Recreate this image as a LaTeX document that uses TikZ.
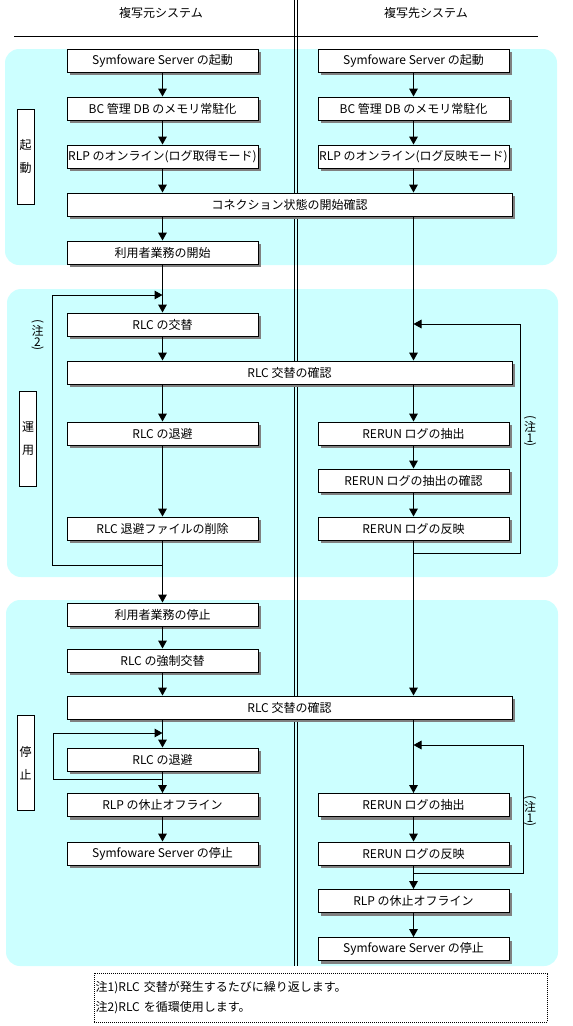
\documentclass[tikz,border=0pt]{standalone}
\usepackage{fontspec}
\usepackage{graphicx}
\setmainfont{Noto Sans CJK JP}
\usetikzlibrary{arrows.meta, shadows}
\definecolor{phasecyan}{RGB}{204, 255, 255}
\definecolor{shadowgray}{RGB}{128, 128, 128}
\newcommand\vparen[1]{\rotatebox{-90}{#1}}

\begin{document}
\begin{tikzpicture}[
  x=0.75pt, y=-0.75pt, line width=0.75pt, font=\fontsize{9}{11}\selectfont,
  box/.style={draw, fill=white, minimum width=143.25pt, minimum height=17.25pt, inner sep=0pt,
              drop shadow={shadow xshift=2.6pt, shadow yshift=-2.6pt, fill=shadowgray, opacity=1}},
  widebox/.style={box, minimum width=333.75pt},
  phase/.style={draw, fill=white, minimum width=12.75pt, minimum height=71.25pt, inner sep=0pt,
                align=center, font=\fontsize{9}{17.25}\selectfont},
  remark/.style={inner sep=0pt, align=center, font=\fontsize{9}{0}\selectfont},
  panel/.style={fill=phasecyan, rounded corners=10.5pt},
  arr/.style={-{Triangle[length=6pt, width=6.5pt]}},
]
\useasboundingbox (0,0) rectangle (573,1026);

% background panels
\fill[panel] (5,49) rectangle (557,265);
\fill[panel] (7,289) rectangle (558,577);
\fill[panel] (6,600) rectangle (558,966);

% headings and system separator
\node (srchead) at (161,13) {複写元システム};
\node (dsthead) at (426,13) {複写先システム};
\draw (14,36) -- (538,36);
\draw (294,0) -- (294,966) (297,0) -- (297,966);

% phase labels
\node[phase] (phstart) at (25.5,156.5) {起\\動};
\node[phase] (phrun) at (28,439) {運\\用};
\node[phase] (phstop) at (25.5,763) {停\\止};

% startup
\node[box] (l1) at (162.5,60.5) {Symfoware Server の起動};
\node[box] (l2) at (162.5,108.5) {BC 管理 DB のメモリ常駐化};
\node[box] (l3) at (162.5,156.5) {RLP のオンライン(ログ取得モード)};
\node[box] (r1) at (413.5,60.5) {Symfoware Server の起動};
\node[box] (r2) at (413.5,108.5) {BC 管理 DB のメモリ常駐化};
\node[box] (r3) at (413.5,156.5) {RLP のオンライン(ログ反映モード)};
\node[widebox] (w1) at (289.5,204.5) {コネクション状態の開始確認};
\node[box] (l4) at (162.5,252.5) {利用者業務の開始};

% operation
\node[box] (l5) at (162.5,324.5) {RLC の交替};
\node[widebox] (w2) at (289.5,372.5) {RLC 交替の確認};
\node[box] (l6) at (162.5,433.5) {RLC の退避};
\node[box] (l7) at (162.5,528.5) {RLC 退避ファイルの削除};
\node[box] (r4) at (413.5,433.5) {RERUN ログの抽出};
\node[box] (r5) at (413.5,480.5) {RERUN ログの抽出の確認};
\node[box] (r6) at (413.5,528.5) {RERUN ログの反映};

% stop
\node[box] (l8) at (162.5,614.5) {利用者業務の停止};
\node[box] (l9) at (162.5,660.5) {RLC の強制交替};
\node[widebox] (w3) at (289.5,707.5) {RLC 交替の確認};
\node[box] (l10) at (162.5,759.5) {RLC の退避};
\node[box] (l11) at (162.5,805) {RLP の休止オフライン};
\node[box] (l12) at (162.5,853.5) {Symfoware Server の停止};
\node[box] (r7) at (413.5,805) {RERUN ログの抽出};
\node[box] (r8) at (413.5,853.5) {RERUN ログの反映};
\node[box] (r9) at (413.5,901) {RLP の休止オフライン};
\node[box] (r10) at (413.5,949) {Symfoware Server の停止};

% flow
\draw[arr] (l1) -- (l2);
\draw[arr] (l2) -- (l3);
\draw[arr] (l3) -- (l3 |- w1.north);
\draw[arr] (r1) -- (r2);
\draw[arr] (r2) -- (r3);
\draw[arr] (r3) -- (r3 |- w1.north);
\draw[arr] (l4 |- w1.south) -- (l4);
\draw[arr] (l4) -- (l5);
\draw[arr] (r3 |- w1.south) -- (r3 |- w2.north);
\draw[arr] (l5) -- (l5 |- w2.north);
\draw[arr] (l6 |- w2.south) -- (l6);
\draw[arr] (r4 |- w2.south) -- (r4);
\draw[arr] (l6) -- (l7);
\draw[arr] (r4) -- (r5);
\draw[arr] (r5) -- (r6);
\draw[arr] (l7) -- (l8);
\draw[arr] (r6) -- (r6 |- w3.north);
\draw[arr] (l8) -- (l9);
\draw[arr] (l9) -- (l9 |- w3.north);
\draw[arr] (l10 |- w3.south) -- (l10);
\draw[arr] (l10) -- (l11);
\draw[arr] (l11) -- (l12);
\draw[arr] (r7 |- w3.south) -- (r7);
\draw[arr] (r7) -- (r8);
\draw[arr] (r8) -- (r9);
\draw[arr] (r9) -- (r10);

% repeat loops
\coordinate (loopatop) at (162.5,295);
\coordinate (loopabot) at (162.5,565);
\draw[arr] (loopabot) -- ++(-110,0) |- (loopatop);
\coordinate (loopbtop) at (413.5,324);
\coordinate (loopbbot) at (413.5,553);
\draw[arr] (loopbbot) -- ++(107,0) |- (loopbtop);
\coordinate (loopctop) at (162.5,733);
\coordinate (loopcbot) at (162.5,779);
\draw[arr] (loopcbot) -- ++(-109.5,0) |- (loopctop);
\coordinate (loopdtop) at (413.5,745);
\coordinate (loopdbot) at (413.5,873);
\draw[arr] (loopdbot) -- ++(109.5,0) |- (loopdtop);

\node[remark] (rema) at (37.5,335) {\vparen{(}\\注\\2\\\vparen{)}};
\node[remark] (remb) at (530,431) {\vparen{(}\\注\\1\\\vparen{)}};
\node[remark] (remc) at (530,811) {\vparen{(}\\注\\1\\\vparen{)}};

% notes
\node[draw, dash pattern=on 0.75pt off 0.75pt, inner xsep=1pt, inner ysep=0pt,
      text width=338pt, minimum height=36.75pt, align=left,
      font=\fontsize{9}{15}\selectfont] (notes) at (321,997.5)
      {注1)RLC 交替が発生するたびに繰り返します。\\注2)RLC を循環使用します。};
\end{tikzpicture}
\end{document}
